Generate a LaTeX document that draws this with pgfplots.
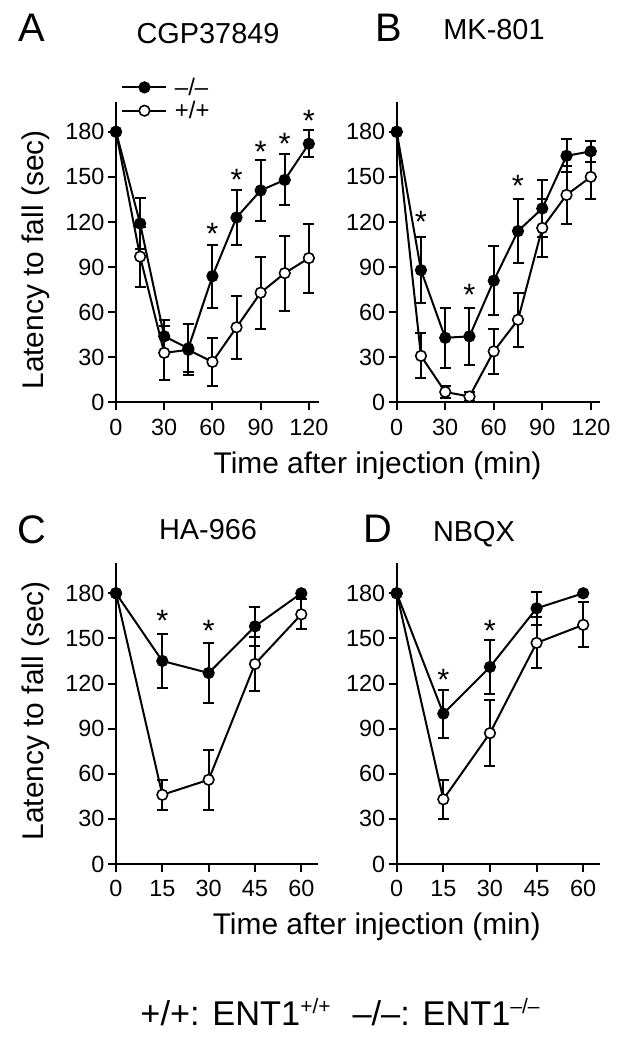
\documentclass[border=0pt]{standalone}
\usepackage{fontspec}
\setmainfont{Liberation Sans}
\usepackage{pgfplots}
\usepackage{pgfplotstable}
\pgfplotsset{compat=1.18}

% Panel A: CGP37849
\pgfplotstableread{
t m e
0 180 0
15 119 17
30 44 11
45 36 16
60 84 21
75 123 18
90 141 20
105 148 17
120 172 9
}\Ako
\pgfplotstableread{
t m e
0 180 0
15 97 20
30 33 18
45 35 17
60 27 16
75 50 21
90 73 24
105 86 25
120 96 23
}\Awt
% Panel B: MK-801
\pgfplotstableread{
t m e
0 180 0
15 88 22
30 43 20
45 44 19
60 81 23
75 114 21
90 129 19
105 164 11
120 167 7
}\Bko
\pgfplotstableread{
t m e
0 180 0
15 31 15
30 7 4
45 4 3
60 34 15
75 55 18
90 116 19
105 138 19
120 150 15
}\Bwt
% Panel C: HA-966
\pgfplotstableread{
t m e
0 180 0
15 135 18
30 127 20
45 158 13
60 180 0
}\Cko
\pgfplotstableread{
t m e
0 180 0
15 46 10
30 56 20
45 133 18
60 166 10
}\Cwt
% Panel D: NBQX
\pgfplotstableread{
t m e
0 180 0
15 100 16
30 131 18
45 170 11
60 180 0
}\Dko
\pgfplotstableread{
t m e
0 180 0
15 43 13
30 87 22
45 147 17
60 159 15
}\Dwt

\pgfplotsset{
  panel/.style={
    scale only axis, anchor=south west,
    axis lines=left, axis line style={-, line width=2bp, black},
    clip=false, ymin=0, ymax=200, height=300.8bp,
    ytick={0,30,...,180},
    tick align=outside, major tick length=8bp,
    tick style={line width=2bp, black},
    tick label style={font=\fontsize{23.5}{23.5}\selectfont},
    xticklabel style={yshift=-5bp},
    /pgf/number format/assume math mode=true,
  },
  kobase/.style={black, line width=2bp, mark=*, mark size=5.3bp,
    mark options={fill=black, draw=black, line width=1.6bp, solid}},
  wtbase/.style={black, line width=2bp, mark=*, mark size=5.3bp,
    mark options={fill=white, draw=black, line width=1.6bp, solid}},
  errs/.style={
    /pgfplots/error bars/y dir=both,
    /pgfplots/error bars/y explicit,
    /pgfplots/error bars/error bar style={line width=2bp, black},
    /pgfplots/error bars/error mark options={rotate=90, line width=2bp, mark size=5.5bp, black},
  },
  stars/.style={draw=none, mark=none, forget plot,
    nodes near coords, point meta=explicit symbolic,
    nodes near coords style={anchor=base, inner sep=0pt, font=\fontsize{31}{31}\selectfont}},
}

\begin{document}
\begin{tikzpicture}
\useasboundingbox (0,0) rectangle (622bp,1050bp);

% ---------- Panel A ----------
\begin{axis}[panel, at={(116bp,647.5bp)}, width=202.5bp, xmin=0, xmax=126,
  xtick={0,30,...,120},
  legend style={draw=none, fill=none, at={(0.026,1.0845)}, anchor=north west,
    inner sep=0pt, row sep=1.5bp, column sep=6bp,
    nodes={inner sep=1.5bp}},
  legend cell align=left,
  legend image code/.code={\draw[mark repeat=2,mark phase=2] plot coordinates {(0bp,0bp) (22bp,0bp) (44bp,0bp)};}]
\addlegendimage{kobase}
\addlegendentry{\fontsize{24}{24}\selectfont –/–}
\addlegendimage{wtbase}
\addlegendentry{\fontsize{24}{24}\selectfont +/+}
\addplot[wtbase, errs, forget plot] table[x=t, y=m, y error=e] {\Awt};
\addplot[kobase, errs, forget plot] table[x=t, y=m, y error=e] {\Ako};
\addplot[stars] coordinates {(60,104.9)[*] (75,140.9)[*] (90,159.3)[*] (105,164.9)[*] (120,180.4)[*]};
\end{axis}

% ---------- Panel B ----------
\begin{axis}[panel, at={(396.7bp,647.5bp)}, width=203.3bp, xmin=0, xmax=125.7,
  xtick={0,30,...,120}]
\addplot[wtbase, errs, forget plot] table[x=t, y=m, y error=e] {\Bwt};
\addplot[kobase, errs, forget plot] table[x=t, y=m, y error=e] {\Bko};
\addplot[stars] coordinates {(15,112.7)[*] (45,64.4)[*] (75,137.1)[*]};
\end{axis}

% ---------- Panel C ----------
\begin{axis}[panel, at={(116bp,186bp)}, width=202.3bp, xmin=0, xmax=65.5,
  xtick={0,15,...,60}]
\addplot[wtbase, errs, forget plot] table[x=t, y=m, y error=e] {\Cwt};
\addplot[kobase, errs, forget plot] table[x=t, y=m, y error=e] {\Cko};
\addplot[stars] coordinates {(15,154.4)[*] (30,147.8)[*]};
\end{axis}

% ---------- Panel D ----------
\begin{axis}[panel, at={(396.7bp,186bp)}, width=203.3bp, xmin=0, xmax=65.4,
  xtick={0,15,...,60}]
\addplot[wtbase, errs, forget plot] table[x=t, y=m, y error=e] {\Dwt};
\addplot[kobase, errs, forget plot] table[x=t, y=m, y error=e] {\Dko};
\addplot[stars] coordinates {(15,115.6)[*] (30,147.8)[*]};
\end{axis}

% ---------- Text ----------
\node[anchor=base, font=\fontsize{40}{40}\selectfont] at (31.7bp,1008.3bp) {A};
\node[anchor=base, font=\fontsize{29}{29}\selectfont] at (208bp,1006.7bp) {CGP37849};
\node[anchor=base, font=\fontsize{40}{40}\selectfont] at (388.5bp,1008.3bp) {B};
\node[anchor=base, font=\fontsize{29}{29}\selectfont] at (494bp,1010bp) {MK-801};
\node[anchor=base, font=\fontsize{40}{40}\selectfont] at (31.7bp,506.7bp) {C};
\node[anchor=base, font=\fontsize{29}{29}\selectfont] at (208bp,510bp) {HA-966};
\node[anchor=base, font=\fontsize{40}{40}\selectfont] at (377.7bp,507.3bp) {D};
\node[anchor=base, font=\fontsize{29}{29}\selectfont] at (474bp,508.3bp) {NBQX};

\node[anchor=base, rotate=90, font=\fontsize{30}{30}\selectfont] at (43.3bp,790bp) {Latency to fall (sec)};
\node[anchor=base, rotate=90, font=\fontsize{30}{30}\selectfont] at (43.3bp,339.2bp) {Latency to fall (sec)};
\node[anchor=base, font=\fontsize{30}{30}\selectfont] at (377.5bp,576.7bp) {Time after injection (min)};
\node[anchor=base, font=\fontsize{30}{30}\selectfont] at (376.7bp,115bp) {Time after injection (min)};

\node[anchor=base, font=\fontsize{34.5}{34.5}\selectfont, inner sep=0pt] at (340bp,25bp)
  {+/+: ENT1\raisebox{12bp}{\fontsize{21}{21}\selectfont +/+}\hspace{22bp}–/–: ENT1\raisebox{12bp}{\fontsize{21}{21}\selectfont –/–}};
\end{tikzpicture}
\end{document}
